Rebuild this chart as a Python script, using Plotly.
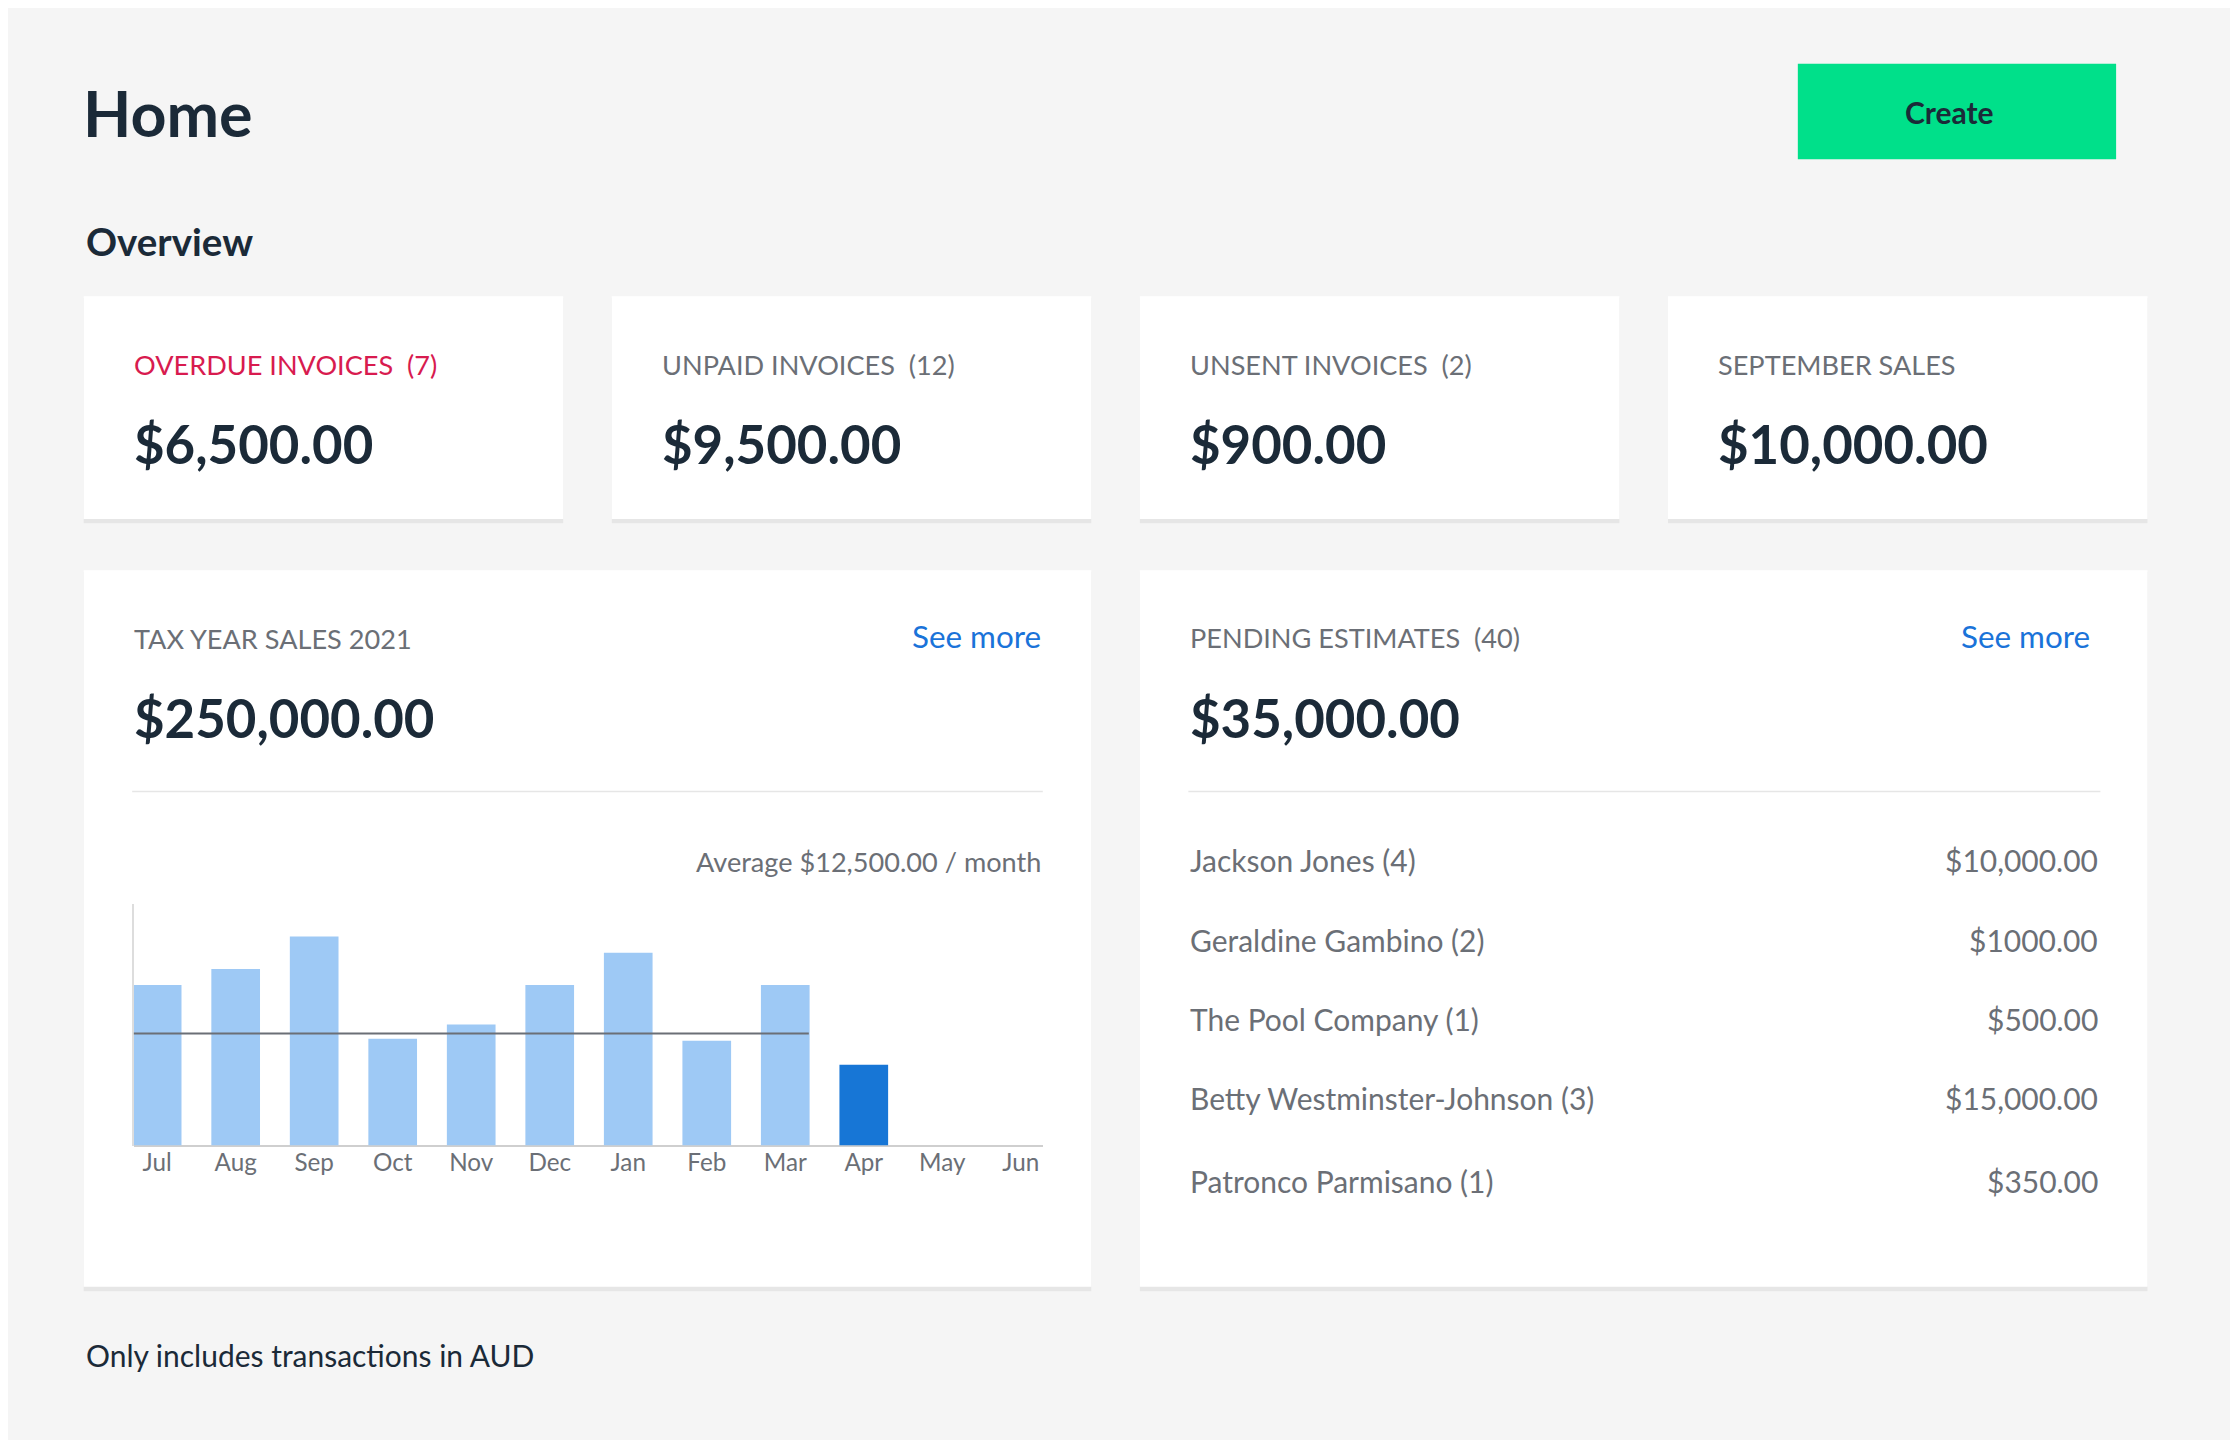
import plotly.graph_objects as go

months = ["Jul","Aug","Sep","Oct","Nov","Dec","Jan","Feb","Mar","Apr","May","Jun"]
sales = [17900,19700,23300,11900,13500,17900,21500,11700,17900,9000,0,0]
average = 12500
card_labels = ["OVERDUE INVOICES  (7)","UNPAID INVOICES  (12)","UNSENT INVOICES  (2)","SEPTEMBER SALES"]
card_values = ["$6,500.00","$9,500.00","$900.00","$10,000.00"]
est_names = ["Jackson Jones (4)","Geraldine Gambino (2)","The Pool Company (1)","Betty Westminster-Johnson (3)","Patronco Parmisano (1)"]
est_amounts = ["$10,000.00","$1000.00","$500.00","$15,000.00","$350.00"]

W, H = 2238, 1440
S = W/1568
def px(x): return x*S/W
def py(y): return 1 - y*S/H

F = "Lato, 'Open Sans', sans-serif"
DARK = "#1b2a38"; GRAY = "#6b6f76"; BLUE = "#1a73d9"

fig = go.Figure()
colors = ["#9ec9f5"]*len(months); colors[9] = "#1776d6"
fig.add_trace(go.Bar(x=months, y=sales, marker_color=colors, marker_line_width=0, hoverinfo="skip"))

shapes, ann = [], []
def rect(x0,y0,x1,y1,fill,shadow=True):
    if shadow:
        shapes.append(dict(type="rect",xref="paper",yref="paper",x0=px(x0),x1=px(x1),y0=py(y1+3),y1=py(y0+1),
                           fillcolor="rgba(0,0,0,0.06)",line_width=0,layer="below"))
    shapes.append(dict(type="rect",xref="paper",yref="paper",x0=px(x0),x1=px(x1),y0=py(y1),y1=py(y0),
                       fillcolor=fill,line_width=0,layer="below"))
def text(x,y,t,size,color=DARK,anchor="left",bold=False):
    ann.append(dict(xref="paper",yref="paper",x=px(x),y=py(y),text=f"<b>{t}</b>" if bold else t,
                    showarrow=False,xanchor=anchor,yanchor="middle",font=dict(family=F,size=size*S,color=color)))
def hline(x0,x1,y,color="#e6e6e6",w=1.5):
    shapes.append(dict(type="line",xref="paper",yref="paper",x0=px(x0),x1=px(x1),y0=py(y),y1=py(y),line=dict(color=color,width=w)))

text(51,73,"Home",44,bold=True)
rect(1254,39,1477,106,"#00e08a",shadow=False)
text(1360,73,"Create",21,bold=True,anchor="center")
text(53,163,"Overview",27,bold=True)
xs = [53,423,793,1163]
for i,x in enumerate(xs):
    rect(x,202,x+336,358,"white")
    text(x+34,250,card_labels[i],19,color="#d81b4f" if i==0 else GRAY)
    text(x+34,305,card_values[i],37,bold=True)
rect(53,394,759,896,"white"); rect(793,394,1499,896,"white")
text(87,442,"TAX YEAR SALES 2021",19,color=GRAY)
text(725,440,"See more",22,color=BLUE,anchor="right")
text(87,497,"$250,000.00",37,bold=True)
hline(87,725,549)
text(725,598,"Average $12,500.00 / month",19,color=GRAY,anchor="right")
text(827,441,"PENDING ESTIMATES  (40)",19,color=GRAY)
text(1460,440,"See more",22,color=BLUE,anchor="right")
text(827,497,"$35,000.00",37,bold=True)
hline(827,1466,549)
for i,(n,a) in enumerate(zip(est_names,est_amounts)):
    y = [597,653,708,764,822][i]
    text(827,y,n,21,color=GRAY); text(1466,y,a,21,color=GRAY,anchor="right")
text(53,944,"Only includes transactions in AUD",21)

shapes.append(dict(type="line",xref="x",yref="y",x0=-0.3,x1=8.3,y0=average,y1=average,line=dict(color="#6b6f76",width=2)))

fig.update_layout(width=W,height=H,margin=dict(l=0,r=0,t=0,b=0),paper_bgcolor="#f5f5f5",plot_bgcolor="rgba(0,0,0,0)",
    shapes=shapes,annotations=ann,showlegend=False,bargap=0.38,
    xaxis=dict(domain=[px(88),px(725)],range=[-0.3,11.28],showgrid=False,zeroline=False,showline=False,
               ticks="",tickfont=dict(family=F,size=17*S,color=GRAY),fixedrange=True),
    yaxis=dict(domain=[py(797),py(628)],range=[0,26900],showgrid=False,zeroline=True,zerolinecolor="#cfcfcf",zerolinewidth=2,
               showline=True,linecolor="#dddddd",linewidth=1.5,showticklabels=False,ticks="",fixedrange=True))
fig.write_html("out.html")
